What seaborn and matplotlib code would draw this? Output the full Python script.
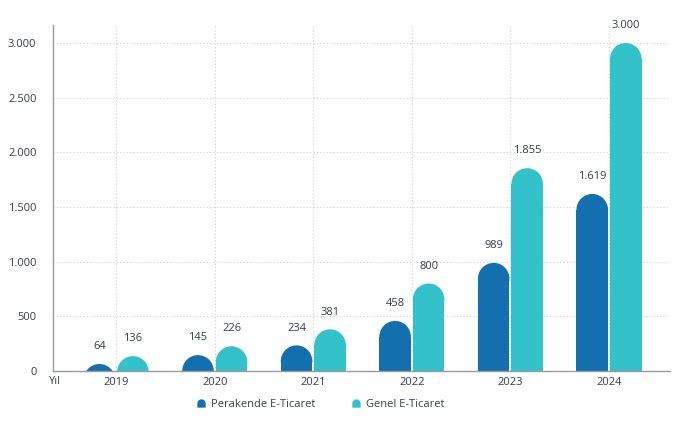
import matplotlib
matplotlib.use("Agg")
import matplotlib.pyplot as plt
import seaborn as sns
import numpy as np
import pandas as pd
from matplotlib.patches import Rectangle, Ellipse
from matplotlib.lines import Line2D
from matplotlib.path import Path

# veriler
yillar = ['2019', '2020', '2021', '2022', '2023', '2024']
perakende = [64, 145, 234, 458, 989, 1619]
genel = [136, 226, 381, 800, 1855, 3000]
seriler = ['Perakende E-Ticaret', 'Genel E-Ticaret']
renkler = ['#136fae', '#34c2ca']
y_ticks = [0, 500, 1000, 1500, 2000, 2500, 3000]

sns.set_style('white')
plt.rcParams['font.family'] = ['Open Sans', 'DejaVu Sans']
plt.rcParams['font.weight'] = 500
yazi_rengi = '#363c52'


def tr_sayi(v):
    return f"{v:,}".replace(',', '.')


df = pd.DataFrame({
    'yil': yillar * 2,
    'deger': perakende + genel,
    'seri': [seriler[0]] * len(yillar) + [seriler[1]] * len(yillar),
})

fig = plt.figure(figsize=(6.81, 4.23), dpi=100)
ax = fig.add_axes([0.078, 0.123, 0.906, 0.818])

sns.barplot(data=df, x='yil', y='deger', hue='seri', palette=renkler,
            width=0.68, ax=ax, legend=False, saturation=1)

ax.set_xlim(-0.64, 5.62)
ax.set_ylim(0, 3165)
ax.set_yticks(y_ticks)
ax.set_yticklabels([tr_sayi(t) for t in y_ticks])

# izgara
ax.grid(True, axis='both', linestyle=(0, (1, 2)), color='#cfcfcf', linewidth=0.8)
ax.set_axisbelow(True)
for s in ['top', 'right']:
    ax.spines[s].set_visible(False)
for s in ['left', 'bottom']:
    ax.spines[s].set_color('#9a9a9a')
    ax.spines[s].set_linewidth(1.0)
ax.tick_params(axis='both', length=0, labelsize=8, labelcolor=yazi_rengi)
ax.tick_params(axis='y', pad=12)
ax.tick_params(axis='x', pad=4)
ax.set_xlabel('')
ax.set_ylabel('')
ax.text(-0.008, -0.03, 'Yıl', transform=ax.transAxes, va='center', ha='left',
        fontsize=8, color=yazi_rengi)

# yuvarlak uclu cubuklar
fig.canvas.draw()
bar_w = 0.32
px_per_x = ax.transData.transform((1, 0))[0] - ax.transData.transform((0, 0))[0]
px_per_y = ax.transData.transform((0, 1))[1] - ax.transData.transform((0, 0))[1]
r_px = bar_w * px_per_x / 2
r_y = r_px / px_per_y

for cont, renk in zip(ax.containers, renkler):
    for p in cont.patches:
        xc = p.get_x() + p.get_width() / 2
        h = p.get_height()
        p.set_visible(False)
        if h - r_y > 0:
            ax.add_patch(Rectangle((xc - bar_w / 2, 0), bar_w, h - r_y,
                                   facecolor=renk, edgecolor='none', zorder=2))
        ax.add_patch(Ellipse((xc, h - r_y), bar_w, 2 * r_y,
                             facecolor=renk, edgecolor='none', zorder=2))
        ax.annotate(tr_sayi(int(h)), xy=(xc, h), xytext=(0, 8.5),
                    textcoords='offset points', ha='center', va='bottom',
                    fontsize=8, color=yazi_rengi)

# lejant isaretcisi: ustu yuvarlak kare
aci = np.linspace(0, np.pi, 20)
isaret = Path(np.vstack([np.column_stack([np.cos(aci), np.sin(aci)]),
                         [[-1, -1], [1, -1], [1, 0]]]))
handles = [Line2D([], [], linestyle='none', marker=isaret, markersize=6,
                  markerfacecolor=c, markeredgecolor='none', label=l)
           for c, l in zip(renkler, seriler)]
fig.legend(handles=handles, loc='center', bbox_to_anchor=(0.471, 0.043), ncol=2,
           frameon=False, fontsize=8, handlelength=0.8,
           handletextpad=0.5, columnspacing=3.3, labelcolor=yazi_rengi)

fig.savefig('out.png', dpi=100)
